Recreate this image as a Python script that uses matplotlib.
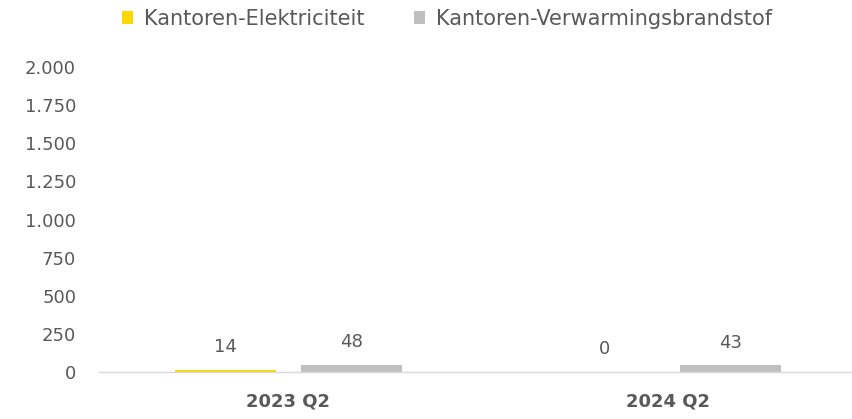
import matplotlib
matplotlib.use("Agg")
import matplotlib.pyplot as plt
import numpy as np

categories = ["2023 Q2", "2024 Q2"]
series_names = ["Kantoren-Elektriciteit", "Kantoren-Verwarmingsbrandstof"]
elektriciteit = [14, 0]
verwarming = [48, 43]
yticks = [0, 250, 500, 750, 1000, 1250, 1500, 1750, 2000]
ytick_labels = ["0", "250", "500", "750", "1.000", "1.250", "1.500", "1.750", "2.000"]

plt.rcParams['font.family'] = ['DejaVu Sans']
txt = "#595959"
fs = 13

fig = plt.figure(figsize=(8.52, 4.19), dpi=100)
ax = fig.add_axes([99/852, 47/419, 758/852, 305/419])

x = np.arange(len(categories))
w = 0.266
off = 0.166
b1 = ax.bar(x - off, elektriciteit, w, color="#FFD700", label=series_names[0])
b2 = ax.bar(x + off, verwarming, w, color="#BFBFBF", label=series_names[1])

for bars, vals in ((b1, elektriciteit), (b2, verwarming)):
    for r, v in zip(bars, vals):
        ax.annotate(f"{v}", (r.get_x() + r.get_width()/2, r.get_height()),
                    xytext=(0, 10), textcoords="offset points",
                    ha="center", va="bottom", fontsize=fs, color=txt)

ax.set_xlim(-0.5, 1.5)
ax.set_ylim(0, 2000)
ax.set_yticks(yticks)
ax.set_yticklabels(ytick_labels, fontsize=fs, color=txt)
ax.set_xticks(x)
ax.set_xticklabels(categories, fontsize=fs, fontweight="bold", color=txt)
ax.tick_params(axis="both", length=0)
ax.tick_params(axis="y", pad=16.5)
ax.tick_params(axis="x", pad=15)
for s in ["top", "right", "left"]:
    ax.spines[s].set_visible(False)
ax.spines["bottom"].set_color("#D9D9D9")
ax.spines["bottom"].set_linewidth(1)

fig.legend(handles=[b1, b2], labels=series_names, loc="center", bbox_to_anchor=(447/852, 1 - 19/419),
           ncol=2, frameon=False, fontsize=15, labelcolor=txt, handlelength=0.53, handleheight=0.53,
           handletextpad=0.53, columnspacing=2.35)

fig.savefig("out.png", dpi=100)
